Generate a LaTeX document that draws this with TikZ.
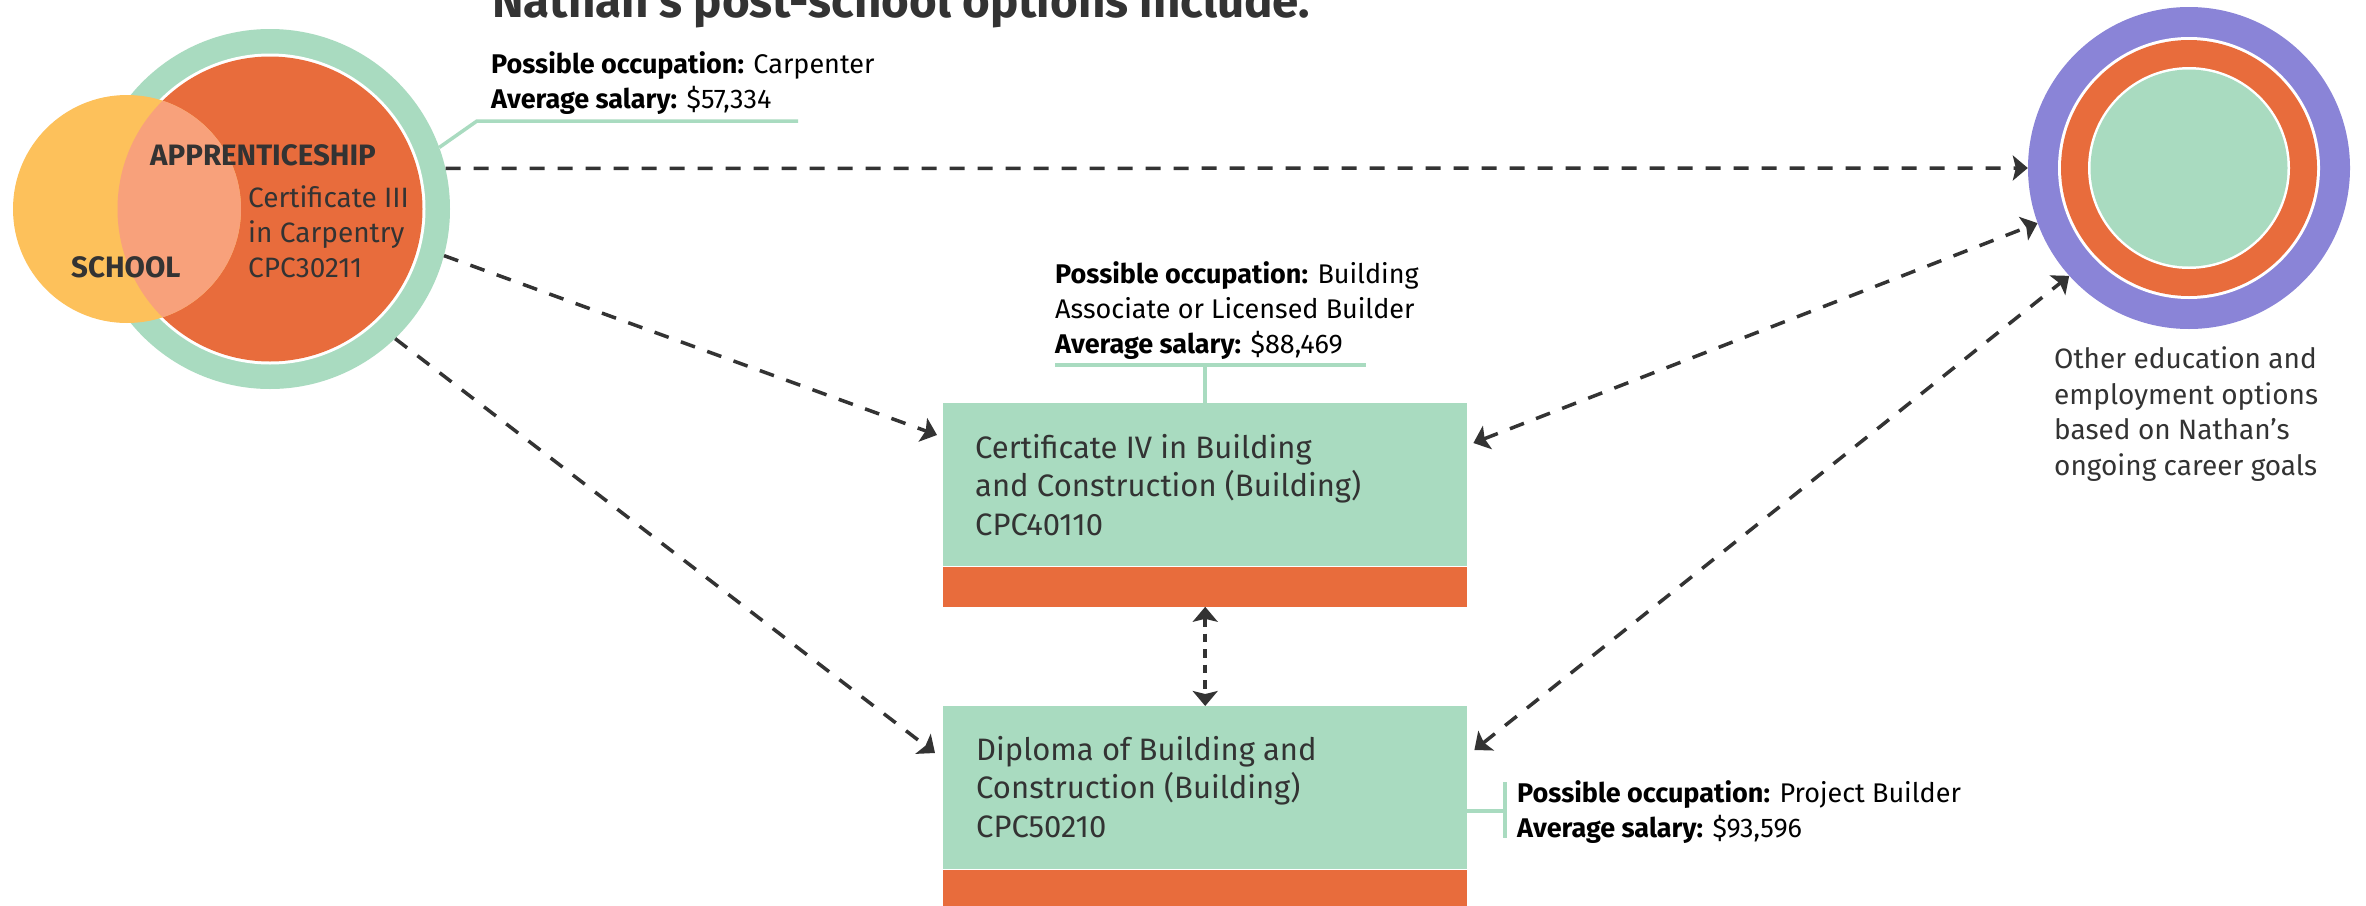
\documentclass[tikz,border=0pt]{standalone}
\usepackage{fontspec}
\setmainfont{Fira Sans}
\usetikzlibrary{arrows.meta}

\definecolor{mint}{HTML}{A9DBC0}
\definecolor{rust}{HTML}{E86C3C}
\definecolor{sun}{HTML}{FDC15B}
\definecolor{peach}{HTML}{F8A17B}
\definecolor{lilac}{HTML}{8A84D7}
\definecolor{ink}{HTML}{333333}

\tikzset{
  route/.style={draw=ink, line width=3.5pt, dash pattern=on 15pt off 13pt},
  shortroute/.style={draw=ink, line width=3.5pt, dash pattern=on 8.5pt off 7pt},
  onehead/.style={-{Stealth[length=15pt,width=25pt,inset=3pt]}},
  twohead/.style={{Stealth[length=15pt,width=25pt,inset=3pt]}-{Stealth[length=15pt,width=25pt,inset=3pt]}},
  leader/.style={draw=mint, line width=3.5pt},
  infotext/.style={font=\fontsize{27}{35}\selectfont, text=black},
  boxtext/.style={font=\fontsize{31}{38.5}\selectfont, text=ink},
  circtext/.style={font=\fontsize{28}{35}\selectfont, text=ink},
  circhead/.style={font=\fontsize{29.5}{35}\selectfont\bfseries, text=ink},
}

\begin{document}
\begin{tikzpicture}[x=1pt,y=-1pt]

      \useasboundingbox[fill=white] (0,0) rectangle (2366,905);

      \begin{scope}[every node/.style={circle,inner sep=0pt}]
        \node[fill=mint,  minimum size=360] (ring)   at (270,209) {};
        \node[fill=white, minimum size=311] (ringgap) at (270,209) {};
        \node[fill=rust,  minimum size=305] (appr)   at (270,209) {};
        \node[fill=sun,   minimum size=228] (school) at (127,209) {};

        \node[fill=lilac, minimum size=322] (goals)    at (2189,168) {};
        \node[fill=white, minimum size=262] (goalsgap) at (2189,168) {};
        \node[fill=rust,  minimum size=256] (goalsmid) at (2189,168) {};
        \node[fill=white, minimum size=202] (goalsgap2) at (2189,168) {};
        \node[fill=mint,  minimum size=197] (goalsin)  at (2189,168) {};
      \end{scope}

      % overlap of school and apprenticeship
      \begin{scope}
        \clip (127,209) circle[radius=114pt];
        \fill[peach] (270,209) circle[radius=152.5pt];
      \end{scope}

      \begin{scope}[every node/.style={inner sep=0pt,anchor=north west,minimum width=524}]
        \node[fill=mint, minimum height=163] (cert4)    at (943,403) {};
        \node[fill=rust, minimum height=40]  (cert4bar) at (cert4.south west) {};
        \node[fill=mint, minimum height=163] (dipl)     at (943,706) {};
        \node[fill=rust, minimum height=40]  (diplbar)  at (dipl.south west) {};
      \end{scope}

      % text nodes sit on the baseline of their last line
      \begin{scope}[every node/.style={inner sep=0pt,anchor=base west,align=left}]
        \node[font=\fontsize{47.5}{50}\selectfont\bfseries, text=ink] (title) at (492,17)
          {Nathan’s post-school options include.};
        \node[circhead] (apprname) at (150,165) {APPRENTICESHIP};
        \node[circhead] (schoolname) at (71,277) {SCHOOL};
        \node[circtext] (cert3) at (248,277) {Certificate III\\in Carpentry\\CPC30211};
        \node[infotext] (occ1) at (491,108)
          {\textbf{Possible occupation:} Carpenter\\\textbf{Average salary:} \$57,334};
        \node[infotext] (occ2) at (1055,353)
          {\textbf{Possible occupation:} Building\\Associate or Licensed Builder\\\textbf{Average salary:} \$88,469};
        \node[infotext] (occ3) at (1517,837)
          {\textbf{Possible occupation:} Project Builder\\\textbf{Average salary:} \$93,596};
        \node[boxtext] (cert4name) at (975,535) {Certificate IV in Building\\and Construction (Building)\\CPC40110};
        \node[boxtext] (diplname) at (976,837) {Diploma of Building and\\Construction (Building)\\CPC50210};
        \node[circtext, font=\fontsize{28}{35.5}\selectfont] (goalsname) at (2054,475)
          {Other education and\\employment options\\based on Nathan’s\\ongoing career goals};
      \end{scope}

      % leader lines to the occupation notes
      \coordinate (lead1) at (477,121);
      \coordinate (lead2) at (1055,365);
      \coordinate (lead3) at (1505,811);
      \draw[leader] (ring.20) -- (lead1) -- ++(321,0);
      \draw[leader] (lead2) -- ++(311,0);
      \draw[leader] (cert4.north) -- (cert4.north |- lead2);
      \draw[leader] (dipl.east |- lead3) -- (lead3);
      \draw[leader] ([yshift=29pt]lead3) -- ([yshift=-27pt]lead3);

      % arrow ends beside the boxes
      \coordinate (cert4 in)  at ([shift={(-6,32)}]cert4.north west);
      \coordinate (cert4 out) at ([shift={(6,40)}]cert4.north east);
      \coordinate (dipl in)   at ([shift={(-8,47)}]dipl.north west);
      \coordinate (dipl out)  at ([shift={(7,44)}]dipl.north east);

      \begin{scope}[every edge/.style={draw}]
        \path (ring.13)  edge[route,onehead] (goals.180);
        \path (ring.-15) edge[route,onehead] (cert4 in);
        \path (ring.-46) edge[route,onehead] (dipl in);
        \path (cert4bar.south) edge[shortroute,twohead] (dipl.north);
        \path (cert4 out) edge[route,twohead] (goals.200);
        \path (dipl out)  edge[route,twohead] (goals.222);
      \end{scope}

    \end{tikzpicture}
\end{document}
